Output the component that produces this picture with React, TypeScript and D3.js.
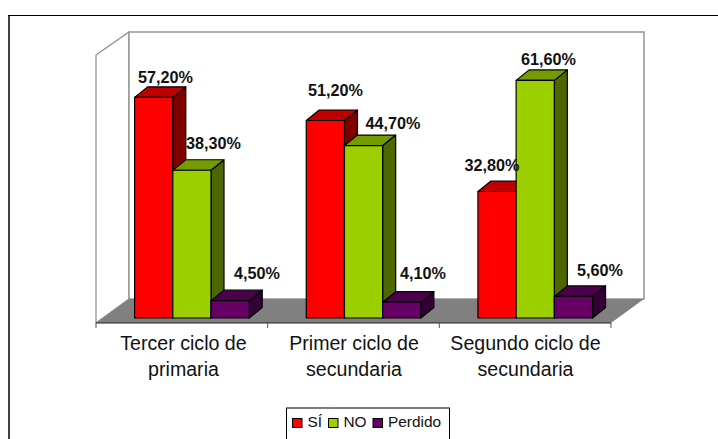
import React from "react";
import * as d3 from "d3";

const categories = [["Tercer ciclo de", "primaria"], ["Primer ciclo de", "secundaria"], ["Segundo ciclo de", "secundaria"]];
const seriesNames = ["SÍ", "NO", "Perdido"];
const si = [57.2, 51.2, 32.8];
const no = [38.3, 44.7, 61.6];
const perdido = [4.5, 4.1, 5.6];
const seriesValues = [si, no, perdido];
const front = ["#ff0000", "#9ccf00", "#660066"];
const top = ["#bf0000", "#749b00", "#4c004c"];
const side = ["#800000", "#4e6700", "#330033"];
const labelPos = [
  [[138, 82.5], [186, 149], [234, 279]],
  [[308, 96], [365.5, 128.5], [400, 279]],
  [[464.5, 171], [521, 65], [577, 276]],
];
const catCenters = [183.5, 354, 525.5];
const legendX = [292, 328, 372.5];
const fmt = (v: number) => v.toFixed(2).replace(".", ",") + "%";

const FONT = "'Liberation Sans', Arial, sans-serif";
const DX = 13, DY = 10.5;

export default function App() {
  const x0 = d3.scaleBand<number>().domain([0, 1, 2]).range([96, 611]);
  const y = d3.scaleLinear().domain([0, 70]).range([318, 48]);
  const barW = 38.2;
  const offs = 38.6;
  const floorY = 323, backY = 299, wallTop = 32;
  const ticks = [96, x0(1)!, x0(2)!, 611];

  return (
    <svg width={718} height={439} style={{ position: "absolute", left: 0, top: 0, fontFamily: FONT }}>
      <rect width={718} height={439} fill="#fff" />
      <path d="M9 439V15" fill="none" stroke="#404040" strokeWidth={2} />
      <path d="M8 15.5H718" fill="none" stroke="#000" strokeWidth={1.2} />
      <path d={`M96 ${floorY}V55L129 ${wallTop}V${backY}Z`} fill="#fff" stroke="#8c8c8c" strokeWidth={1.2} />
      <path d={`M129 ${wallTop}H644V${backY}H129Z`} fill="#fff" stroke="#969696" strokeWidth={1.5} />
      <path d={`M96 ${floorY}L129 ${backY}H644L611 ${floorY}Z`} fill="#808080" />
      <path d={`M96 ${floorY}H611`} stroke="#222" strokeWidth={1} />
      {ticks.map((t, i) => (
        <path key={i} d={`M${t} ${floorY}V328`} stroke="#555" strokeWidth={1} />
      ))}
      {categories.map((_, c) =>
        [0, 1, 2].map((s) => {
          const v = seriesValues[s][c];
          const l = x0(c)! + offs + s * barW;
          const r = l + barW;
          const t = y(v);
          const b = y(0);
          return (
            <g key={`${c}-${s}`} stroke="#000" strokeWidth={1.2} strokeLinejoin="round">
              <path d={`M${r} ${t}L${r + DX} ${t - DY}V${b - DY}L${r} ${b}Z`} fill={side[s]} />
              <path d={`M${l} ${t}L${l + DX} ${t - DY}H${r + DX}L${r} ${t}Z`} fill={top[s]} />
              <rect x={l} y={t} width={barW} height={b - t} fill={front[s]} />
            </g>
          );
        })
      )}
      {categories.map((_, c) =>
        [0, 1, 2].map((s) => (
          <text key={`l${c}-${s}`} x={labelPos[c][s][0]} y={labelPos[c][s][1]} fontSize={16.2} fontWeight="bold" fill="#111">
            {fmt(seriesValues[s][c])}
          </text>
        ))
      )}
      {categories.map((lines, c) => (
        <text key={c} textAnchor="middle" fontSize={19.6} fill="#111">
          {lines.map((ln, i) => (
            <tspan key={i} x={catCenters[c]} y={350 + i * 25.7}>
              {ln}
            </tspan>
          ))}
        </text>
      ))}
      <rect x={286.5} y={408} width={163} height={40} fill="#fff" stroke="#000" />
      {seriesNames.map((n, i) => (
        <g key={n}>
          <rect x={legendX[i] + 0.5} y={418.5} width={9.5} height={9} fill={front[i]} stroke="#000" />
          <text x={legendX[i] + 15.5} y={427} fontSize={15.4} fill="#111">{n}</text>
        </g>
      ))}
    </svg>
  );
}
